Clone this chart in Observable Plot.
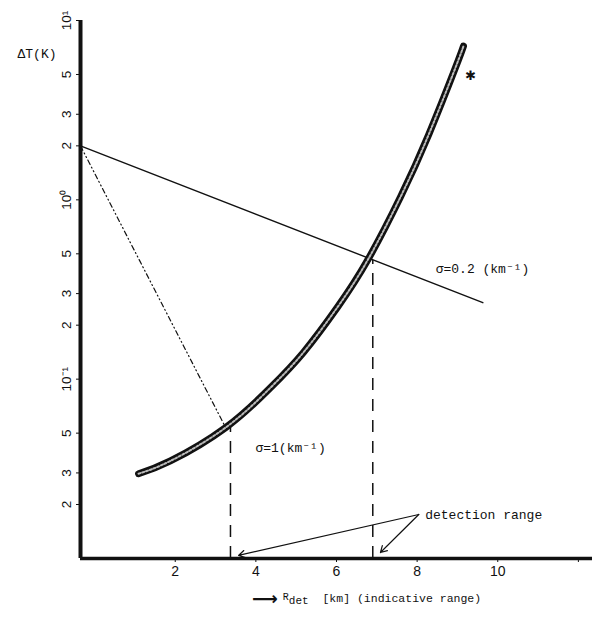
<!DOCTYPE html>
<html>
<head>
<meta charset="utf-8">
<script src="https://cdn.jsdelivr.net/npm/d3@7"></script>
<script src="https://cdn.jsdelivr.net/npm/@observablehq/plot@0.6"></script>
<style>
  html, body { margin: 0; padding: 0; background: #fff; }
  #wrap { position: relative; width: 600px; height: 628px; }
  #caption { position: absolute; left: 252px; top: 588px; font: 11.5px "Liberation Mono", monospace; color: #111; white-space: nowrap; }
  #caption .arr { font: bold 18px "DejaVu Sans", sans-serif; vertical-align: -3px; margin-right: 5px; }
  #caption .r { font-size: 10px; vertical-align: 2px; }
  #caption sub { font-size: 11px; vertical-align: -2px; }
</style>
</head>
<body>
<div id="wrap"><div id="chart"></div><div id="caption"><span class="arr">⟶</span><span class="r">R</span><sub>det</sub>&nbsp; [km] (indicative range)</div></div>
<script>
// ---- data ----
const xDomain = [-0.35, 12.35];
const yDomain = [0.01, 10];
const xTicks = [2, 4, 6, 8, 10, 12];
const xTickLabels = ["2", "4", "6", "8", "10", ""];
const yTicks = [10, 5, 3, 2, 1, 0.5, 0.3, 0.2, 0.1, 0.05, 0.03, 0.02];
const yTickLabels = ["10¹", "5", "3", "2", "10⁰", "5", "3", "2", "10⁻¹", "5", "3", "2"];

// thick curve (target Delta T vs detection range)
const curveR = [1.09, 1.88, 3.25, 4.36, 5.18, 6.03, 6.77, 7.59, 8.29, 8.95, 9.15];
const curveDT = [0.0297, 0.035, 0.0537, 0.0895, 0.141, 0.253, 0.46, 1.04, 2.32, 5.45, 7.2];

// attenuation lines
const sigma02R = [-0.35, 9.63];
const sigma02DT = [2, 0.267];
const sigma1R = [-0.35, 3.25];
const sigma1DT = [2, 0.0537];

// detection range drop lines
const dropR = [3.37, 6.9];
const dropTop = [0.054, 0.46];

// annotation arrows ("detection range")
const arrowFromR = [8.04, 8.04];
const arrowFromDT = [0.0176, 0.0176];
const arrowToR = [3.57, 7.09];
const arrowToDT = [0.0104, 0.0108];

// labels
const labelText = ["σ=0.2 (km⁻¹)", "σ=1(km⁻¹)", "detection range"];
const labelR = [8.46, 3.99, 8.2];
const labelDT = [0.414, 0.0416, 0.0176];
const starR = [9.33];
const starDT = [4.93];

// ---- build ----
const curve = curveR.map((r, i) => ({r, dt: curveDT[i]}));
const s02 = sigma02R.map((r, i) => ({r, dt: sigma02DT[i]}));
const s1 = sigma1R.map((r, i) => ({r, dt: sigma1DT[i]}));
const drops = dropR.map((r, i) => ({r, top: dropTop[i]}));
const arrows = arrowFromR.map((r, i) => ({x1: r, y1: arrowFromDT[i], x2: arrowToR[i], y2: arrowToDT[i]}));
const labels = labelText.map((t, i) => ({t, r: labelR[i], dt: labelDT[i]}));
const yTickData = yTicks.map((v, i) => ({v, t: yTickLabels[i]}));
const xLab = new Map(xTicks.map((v, i) => [v, xTickLabels[i]]));

const chart = Plot.plot({
  width: 600,
  height: 585,
  marginLeft: 80,
  marginRight: 8,
  marginTop: 20,
  marginBottom: 27,
  style: {fontFamily: "Liberation Sans, sans-serif", background: "#fff", color: "#111"},
  x: {domain: xDomain},
  y: {type: "log", domain: yDomain},
  marks: [
    Plot.axisY({ticks: yTicks, tickFormat: () => "", tickSize: 4, label: null}),
    Plot.text(yTickData, {x: () => xDomain[0], y: "v", text: "t", rotate: -90, dx: -14, fontSize: 13.5, fill: "#111"}),
    Plot.axisX({ticks: xTicks, tickFormat: d => xLab.get(d), tickSize: 4, tickPadding: 4, fontSize: 14, label: null}),
    Plot.ruleX([xDomain[0]], {stroke: "#111", strokeWidth: 4}),
    Plot.ruleY([yDomain[0]], {stroke: "#111", strokeWidth: 3.5}),
    Plot.text(["ΔT(K)"], {frameAnchor: "top-left", dx: -63, dy: 28, fontSize: 13, fontFamily: "Liberation Mono, monospace"}),
    Plot.line(s02, {x: "r", y: "dt", stroke: "#111", strokeWidth: 1.4}),
    Plot.line(s1, {x: "r", y: "dt", stroke: "#111", strokeWidth: 1.2, strokeDasharray: "5,3,1,3,1,3"}),
    Plot.ruleX(drops, {x: "r", y1: yDomain[0], y2: "top", stroke: "#111", strokeWidth: 1.5, strokeDasharray: "12,9"}),
    Plot.line(curve, {x: "r", y: "dt", curve: "natural", stroke: "#111", strokeWidth: 7, strokeLinecap: "round"}),
    Plot.line(curve, {x: "r", y: "dt", curve: "natural", stroke: "#bbb", strokeWidth: 2, strokeDasharray: "2,2"}),
    Plot.arrow(arrows, {x1: "x1", y1: "y1", x2: "x2", y2: "y2", stroke: "#111", strokeWidth: 1.2, headLength: 9}),
    Plot.text(labels, {x: "r", y: "dt", text: "t", textAnchor: "start", fontSize: 13, fontFamily: "Liberation Mono, monospace"}),
    Plot.text(starR.map((r, i) => ({r, dt: starDT[i]})), {x: "r", y: "dt", text: () => "✱", fontSize: 13, fontFamily: "DejaVu Sans, sans-serif"})
  ]
});
document.getElementById("chart").appendChild(chart);
</script>
</body>
</html>
